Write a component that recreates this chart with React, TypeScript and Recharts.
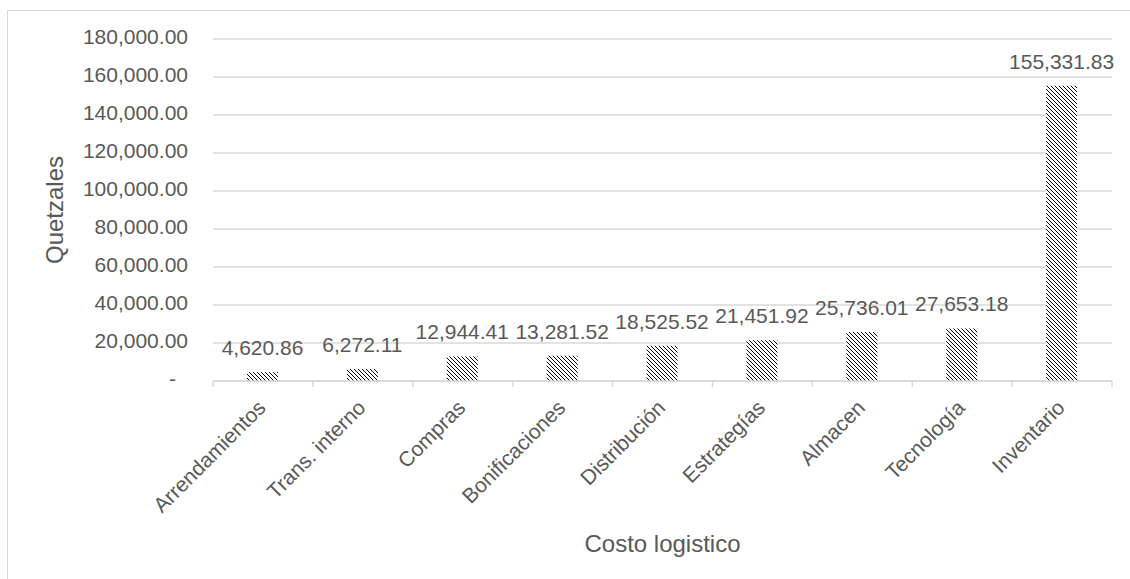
import React from 'react';
import { BarChart, Bar, XAxis, YAxis, CartesianGrid, LabelList, Label } from 'recharts';

const categories = [
  'Arrendamientos',
  'Trans. interno',
  'Compras',
  'Bonificaciones',
  'Distribución',
  'Estrategías',
  'Almacen',
  'Tecnología',
  'Inventario',
];
const values = [4620.86, 6272.11, 12944.41, 13281.52, 18525.52, 21451.92, 25736.01, 27653.18, 155331.83];
const yTicks = [0, 20000, 40000, 60000, 80000, 100000, 120000, 140000, 160000, 180000];

const data = categories.map((name, i) => ({ name, value: values[i] }));

const FONT = '"Liberation Sans", Arial, sans-serif';
const TEXT = '#595959';
const LINE = '#d9d9d9';

const fmt = (v: number) =>
  Number(v).toLocaleString('en-US', { minimumFractionDigits: 2, maximumFractionDigits: 2 });

const XTick = (props: any) => {
  const { x, y, payload, index } = props;
  const half = payload && payload.offset ? payload.offset : 49.95;
  const last = index === categories.length - 1;
  const ax = x + 4;
  const ay = y + 28;
  return (
    <g>
      <line x1={x - half} x2={x - half} y1={y} y2={y + 6} stroke={LINE} strokeWidth={1.5} />
      {last && <line x1={x + half} x2={x + half} y1={y} y2={y + 6} stroke={LINE} strokeWidth={1.5} />}
      <text
        x={ax}
        y={ay}
        textAnchor="end"
        transform={`rotate(-45, ${ax}, ${ay})`}
        fill={TEXT}
        fontSize={21}
        fontFamily={FONT}
      >
        {payload.value}
      </text>
    </g>
  );
};

const YTick = (props: any) => {
  const { x, y, payload } = props;
  const zero = payload.value === 0;
  return (
    <text
      x={zero ? x - 12 : x}
      y={y}
      dy={5}
      textAnchor="end"
      fill={TEXT}
      fontSize={21}
      fontFamily={FONT}
    >
      {zero ? '-' : fmt(payload.value)}
    </text>
  );
};

export default function App() {
  return (
    <div
      style={{
        position: 'absolute',
        left: 7,
        top: 10,
        width: 1123,
        height: 569,
        borderTop: `1px solid ${LINE}`,
        borderLeft: `1px solid ${LINE}`,
        boxSizing: 'border-box',
        background: '#fff',
      }}
    >
      <BarChart
        width={1122}
        height={568}
        data={data}
        margin={{ top: 28, right: 18, left: 0, bottom: 0 }}
        style={{ fontFamily: FONT }}
      >
        <defs>
          <pattern id="hatch" patternUnits="userSpaceOnUse" width={4} height={4}>
            <rect width={4} height={4} fill="#fff" />
            <path
              d="M-1,-1 L5,5 M-1,3 L1,5 M3,-1 L5,1"
              stroke="#000"
              strokeWidth={1.2}
              shapeRendering="crispEdges"
            />
          </pattern>
        </defs>
        <CartesianGrid horizontal vertical={false} stroke={LINE} strokeWidth={1.3} />
        <XAxis
          dataKey="name"
          height={198}
          axisLine={{ stroke: LINE, strokeWidth: 1.5 }}
          tickLine={false}
          tickSize={0}
          tickMargin={0}
          interval={0}
          tick={<XTick />}
        >
          <Label
            content={(p: any) => {
              const vb = p.viewBox || { x: 205, y: 370, width: 899, height: 198 };
              return (
                <text
                  x={vb.x + vb.width / 2}
                  y={vb.y + 171}
                  textAnchor="middle"
                  fill={TEXT}
                  fontSize={24}
                  fontFamily={FONT}
                >
                  Costo logistico
                </text>
              );
            }}
          />
        </XAxis>
        <YAxis
          width={205}
          domain={[0, 180000]}
          ticks={yTicks}
          axisLine={false}
          tickLine={false}
          tickSize={0}
          tickMargin={25}
          interval={0}
          tick={<YTick />}
        >
          <Label
            content={(p: any) => {
              const vb = p.viewBox || { x: 0, y: 28, width: 205, height: 342 };
              const cx = vb.x + 55;
              const cy = vb.y + vb.height / 2;
              return (
                <text
                  x={cx}
                  y={cy}
                  textAnchor="middle"
                  transform={`rotate(-90, ${cx}, ${cy})`}
                  fill={TEXT}
                  fontSize={24}
                  fontFamily={FONT}
                >
                  Quetzales
                </text>
              );
            }}
          />
        </YAxis>
        <Bar dataKey="value" fill="url(#hatch)" barSize={31} isAnimationActive={false}>
          <LabelList
            dataKey="value"
            position="top"
            offset={17}
            formatter={(v: any) => fmt(v)}
            fill={TEXT}
            fontSize={21}
            fontFamily={FONT}
          />
        </Bar>
      </BarChart>
    </div>
  );
}
